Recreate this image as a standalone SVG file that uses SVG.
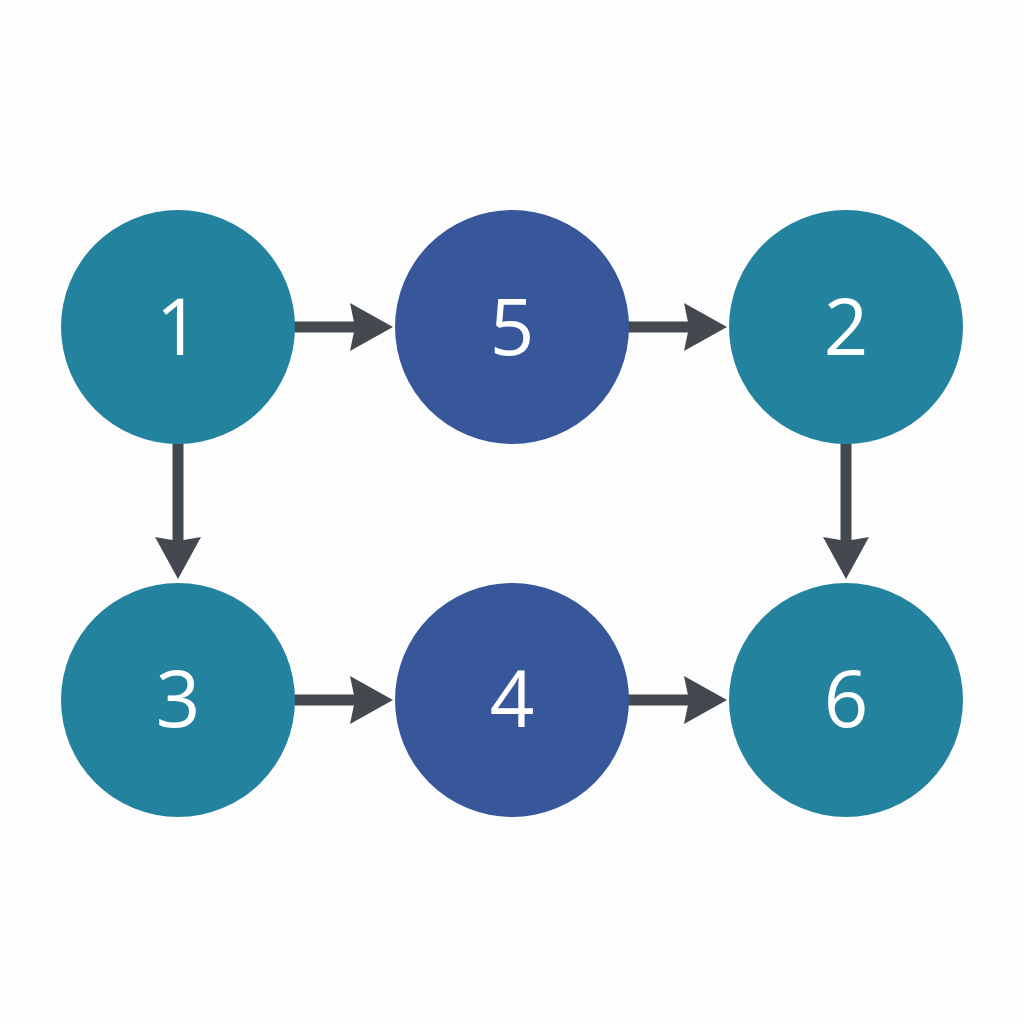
<svg xmlns="http://www.w3.org/2000/svg" width="1024" height="1024" viewBox="0 0 1024 1024">
<style>
.teal{fill:#23829E}
.blue{fill:#37579A}
.lbl{fill:#FFFFFF;font-family:"Open Sans","Noto Sans","DejaVu Sans",sans-serif;font-size:78px;text-anchor:middle}
.shaft{stroke:#43494F;stroke-width:11;fill:none}
.head{fill:#43494F}
</style>
<rect width="1024" height="1024" fill="#FDFDFD"/>
<g id="connectors">
<line class="shaft" x1="294" y1="327" x2="358" y2="327"/>
<polygon class="head" points="350,303 393,327 350,351 355,327"/>
<line class="shaft" x1="628" y1="327" x2="692" y2="327"/>
<polygon class="head" points="684,303 727,327 684,351 689,327"/>
<line class="shaft" x1="294" y1="700" x2="358" y2="700"/>
<polygon class="head" points="350,676 393,700 350,724 355,700"/>
<line class="shaft" x1="628" y1="700" x2="692" y2="700"/>
<polygon class="head" points="684,676 727,700 684,724 689,700"/>
<line class="shaft" x1="178" y1="443" x2="178" y2="542"/>
<polygon class="head" points="155,537 178,579 201,537 178,541"/>
<line class="shaft" x1="846" y1="443" x2="846" y2="542"/>
<polygon class="head" points="823,537 846,579 869,537 846,541"/>
</g>
<g id="node1"><circle class="teal" cx="178" cy="327" r="117"/><text class="lbl" x="178" y="355">1</text></g>
<g id="node5"><circle class="blue" cx="512" cy="327" r="117"/><text class="lbl" x="512" y="355">5</text></g>
<g id="node2"><circle class="teal" cx="846" cy="327" r="117"/><text class="lbl" x="846" y="355">2</text></g>
<g id="node3"><circle class="teal" cx="178" cy="700" r="117"/><text class="lbl" x="178" y="727">3</text></g>
<g id="node4"><circle class="blue" cx="512" cy="700" r="117"/><text class="lbl" x="512" y="727">4</text></g>
<g id="node6"><circle class="teal" cx="846" cy="700" r="117"/><text class="lbl" x="846" y="727">6</text></g>
</svg>
